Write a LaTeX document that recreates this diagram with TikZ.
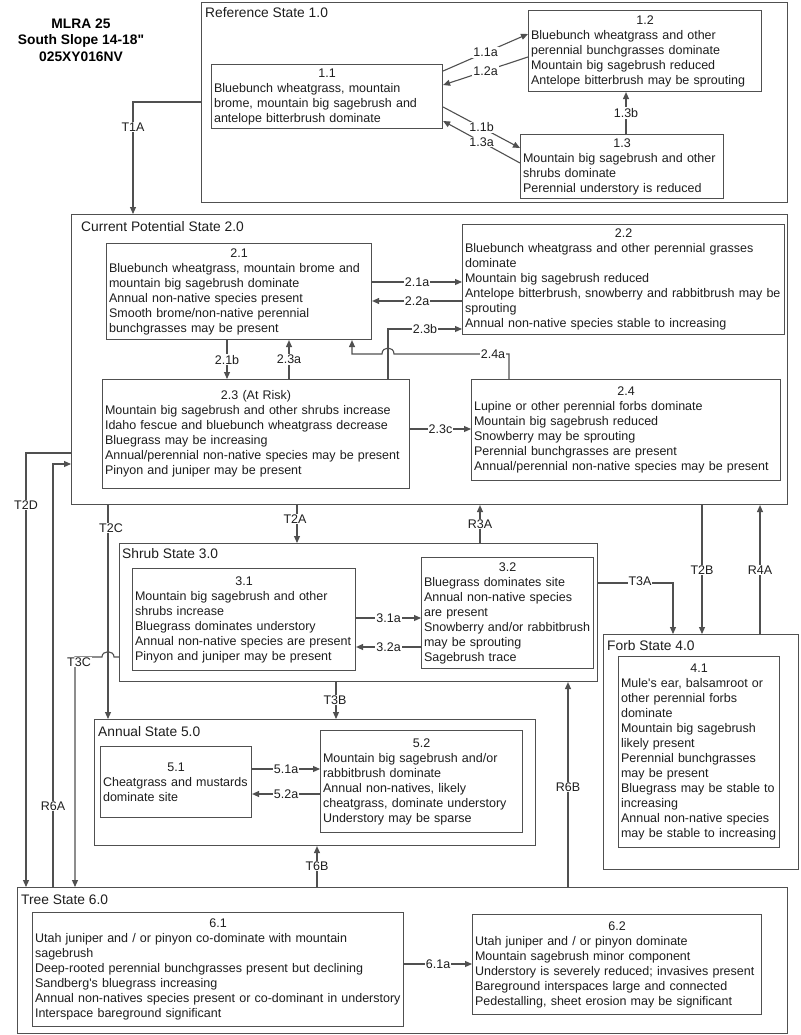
\documentclass[tikz,border=0pt]{standalone}
\usepackage{fontspec}
\setmainfont{Liberation Sans}
\newfontfamily\lsans{Liberation Sans}
\usetikzlibrary{arrows.meta}
\definecolor{lc}{HTML}{505050}
\definecolor{tc}{HTML}{1E1E1E}
\newcommand\fsz{\lsans\fontsize{12.5}{15}\selectfont}
\newcommand\fst{\lsans\fontsize{13.8}{16}\selectfont}
\newcommand\ttl[1]{\makebox[\linewidth][c]{#1}}
\newcommand\stbox[5]{\node[stt, minimum width=#4pt, minimum height=#5pt] (#1) at (#2,#3) {};}
\newcommand\subbox[6]{\node[sub, text width=\dimexpr#4pt-5pt\relax, minimum height=#5pt] (#1) at (#2,#3) {#6};}
\begin{document}
\begin{tikzpicture}[x=1pt,y=-1pt,
  every node/.append style={text=tc},
  stt/.style={draw=lc, line width=1.1pt, anchor=north west, inner sep=0pt},
  sub/.style={draw=lc, line width=1.1pt, anchor=north west, align=left, inner xsep=2.5pt, inner ysep=0pt, font=\fsz},
  lbl/.style={fill=white, inner sep=1pt, font=\fsz},
  slbl/.style={anchor=west, inner sep=0pt, font=\fst},
  arr/.style={draw=lc, line width=1.1pt, -{Triangle[length=7pt,width=6pt]}},
  ln/.style={draw=lc, line width=1.1pt}]
\path[use as bounding box, fill=white] (0,0) rectangle (800,1035);

% header
\node[font=\lsans\bfseries\fontsize{13.8}{16.5}\selectfont, align=center, text=black] (hdr) at (81,40) {MLRA 25\\South Slope 14-18"\\025XY016NV};

% states
\stbox{ref}{201}{2}{586}{200}
\stbox{cur}{71}{214}{716}{290}
\stbox{shrub}{119}{543}{478}{138}
\stbox{forb}{603}{634}{195}{235}
\stbox{ann}{94}{719}{441}{126}
\stbox{tree}{17}{887}{770}{146}
\node[slbl] (sl1) at (205,13) {Reference State 1.0};
\node[slbl] (sl2) at (81,227) {Current Potential State 2.0};
\node[slbl] (sl3) at (122,554) {Shrub State 3.0};
\node[slbl] (sl4) at (607,646) {Forb State 4.0};
\node[slbl] (sl5) at (98,732) {Annual State 5.0};
\node[slbl] (sl6) at (21,900) {Tree State 6.0};

% community phases
\subbox{b11}{211}{64}{231}{64}{\ttl{1.1}\\Bluebunch wheatgrass, mountain\\brome, mountain big sagebrush and\\antelope bitterbrush dominate}
\subbox{b12}{528}{10}{233}{81}{\ttl{1.2}\\Bluebunch wheatgrass and other\\perennial bunchgrasses dominate\\Mountain big sagebrush reduced\\Antelope bitterbrush may be sprouting}
\subbox{b13}{520}{134}{203}{64}{\ttl{1.3}\\Mountain big sagebrush and other\\shrubs dominate\\Perennial understory is reduced}
\subbox{b21}{106}{243}{265}{96}{\ttl{2.1}\\Bluebunch wheatgrass, mountain brome and\\mountain big sagebrush dominate\\Annual non-native species present\\Smooth brome/non-native perennial\\bunchgrasses may be present}
\subbox{b22}{462}{224}{322}{110}{\ttl{2.2}\\Bluebunch wheatgrass and other perennial grasses\\dominate\\Mountain big sagebrush reduced\\Antelope bitterbrush, snowberry and rabbitbrush may be\\sprouting\\Annual non-native species stable to increasing}
\subbox{b23}{102}{379}{307}{109}{\ttl{2.3 (At Risk)}\\Mountain big sagebrush and other shrubs increase\\Idaho fescue and bluebunch wheatgrass decrease\\Bluegrass may be increasing\\Annual/perennial non-native species may be present\\Pinyon and juniper may be present}
\subbox{b24}{471}{379}{309}{101}{\ttl{2.4}\\Lupine or other perennial forbs dominate\\Mountain big sagebrush reduced\\Snowberry may be sprouting\\Perennial bunchgrasses are present\\Annual/perennial non-native species may be present}
\subbox{b31}{132}{568}{223}{102}{\ttl{3.1}\\Mountain big sagebrush and other\\shrubs increase\\Bluegrass dominates understory\\Annual non-native species are present\\Pinyon and juniper may be present}
\subbox{b32}{421}{557}{172}{111}{\ttl{3.2}\\Bluegrass dominates site\\Annual non-native species\\are present\\Snowberry and/or rabbitbrush\\may be sprouting\\Sagebrush trace}
\subbox{b41}{618}{656}{161}{191}{\ttl{4.1}\\Mule's ear, balsamroot or\\other perennial forbs\\dominate\\Mountain big sagebrush\\likely present\\Perennial bunchgrasses\\may be present\\Bluegrass may be stable to\\increasing\\Annual non-native species\\may be stable to increasing}
\subbox{b51}{100}{746}{151}{71}{\ttl{5.1}\\Cheatgrass and mustards\\dominate site}
\subbox{b52}{320}{730}{202}{102}{\ttl{5.2}\\Mountain big sagebrush and/or\\rabbitbrush dominate\\Annual non-natives, likely\\cheatgrass, dominate understory\\Understory may be sparse}
\subbox{b61}{32}{912}{371}{114}{\ttl{6.1}\\Utah juniper and / or pinyon co-dominate with mountain\\sagebrush\\Deep-rooted perennial bunchgrasses present but declining\\Sandberg's bluegrass increasing\\Annual non-natives species present or co-dominant in understory\\Interspace bareground significant}
\subbox{b62}{472}{914}{289}{100}{\ttl{6.2}\\Utah juniper and / or pinyon dominate\\Mountain sagebrush minor component\\Understory is severely reduced; invasives present\\Bareground interspaces large and connected\\Pedestalling, sheet erosion may be significant}

% reference state pathways
\draw[arr] (b11.east |- 0,71) -- node[lbl] (l11a) {1.1a} (b12.west |- 0,34);
\draw[arr] (b12.west |- 0,57) -- node[lbl] (l12a) {1.2a} (b11.east |- 0,85);
\draw[arr] (b11.east |- 0,107) -- node[lbl] (l11b) {1.1b} (b13.west |- 0,148);
\draw[arr] (b13.west |- 0,163) -- node[lbl] (l13a) {1.3a} (b11.east |- 0,121);
\draw[arr] (626,0 |- b13.north) -- node[lbl] (l13b) {1.3b} (626,0 |- b12.south);

% current potential pathways
\draw[arr] (b21.east |- 0,282) -- node[lbl] (l21a) {2.1a} (b22.west |- 0,282);
\draw[arr] (b22.west |- 0,301) -- node[lbl] (l22a) {2.2a} (b21.east |- 0,301);
\draw[arr] (388,0 |- b23.north) -- (388,329) -- node[lbl] (l23b) {2.3b} (b22.west |- 0,329);
\draw[arr] (509,0 |- b24.north) -- (509,354) -- (394,354) .. controls (394,346) and (382,346) .. (382,354) -- (352,354) -- (352,0 |- b21.south);
\node[lbl] (l24a) at (493,354) {2.4a};
\draw[arr] (227,0 |- b21.south) -- node[lbl] (l21b) {2.1b} (227,0 |- b23.north);
\draw[arr] (289,0 |- b23.north) -- node[lbl] (l23a) {2.3a} (289,0 |- b21.south);
\draw[arr] (b23.east |- 0,429) -- node[lbl] (l23c) {2.3c} (b24.west |- 0,429);

% shrub, annual, tree pathways
\draw[arr] (b31.east |- 0,618) -- node[lbl] (l31a) {3.1a} (b32.west |- 0,618);
\draw[arr] (b32.west |- 0,647) -- node[lbl] (l32a) {3.2a} (b31.east |- 0,647);
\draw[arr] (b51.east |- 0,769) -- node[lbl] (l51a) {5.1a} (b52.west |- 0,769);
\draw[arr] (b52.west |- 0,794) -- node[lbl] (l52a) {5.2a} (b51.east |- 0,794);
\draw[arr] (b61.east |- 0,964) -- node[lbl] (l61a) {6.1a} (b62.west |- 0,964);

% transitions
\draw[arr] (ref.west |- 0,102) -- (133,102) -- (133,0 |- cur.north);
\node[lbl] (lT1A) at (133,127) {T1A};
\draw[arr] (cur.west |- 0,453) -- (26,453) -- (26,0 |- tree.north);
\node[lbl] (lT2D) at (26,505) {T2D};
\draw[arr] (53,0 |- tree.north) -- (53,464) -- (cur.west |- 0,464);
\node[lbl] (lR6A) at (53,806) {R6A};
\draw[arr] (108,0 |- cur.south) -- (108,0 |- ann.north);
\node[lbl] (lT2C) at (111,528) {T2C};
\draw[arr] (shrub.west |- 0,657) -- (114,657) .. controls (114,650) and (102,650) .. (102,657) -- (75,657) -- (75,0 |- tree.north);
\node[lbl] (lT3C) at (79,662) {T3C};
\draw[arr] (297,0 |- cur.south) -- (297,0 |- shrub.north);
\node[lbl] (lT2A) at (295,519) {T2A};
\draw[arr] (480,0 |- shrub.north) -- (480,0 |- cur.south);
\node[lbl] (lR3A) at (480,524) {R3A};
\draw[arr] (shrub.east |- 0,583) -- (673,583) -- (673,0 |- forb.north);
\node[lbl] (lT3A) at (640,581) {T3A};
\draw[arr] (702,0 |- cur.south) -- (702,0 |- forb.north);
\node[lbl] (lT2B) at (702,570) {T2B};
\draw[arr] (760,0 |- forb.north) -- (760,0 |- cur.south);
\node[lbl] (lR4A) at (760,570) {R4A};
\draw[arr] (336,0 |- shrub.south) -- (336,0 |- ann.north);
\node[lbl] (lT3B) at (335,700) {T3B};
\draw[arr] (568,0 |- tree.north) -- (568,0 |- shrub.south);
\node[lbl] (lR6B) at (568,787) {R6B};
\draw[arr] (317,0 |- tree.north) -- (317,0 |- ann.south);
\node[lbl] (lT6B) at (317,866) {T6B};
\end{tikzpicture}
\end{document}
